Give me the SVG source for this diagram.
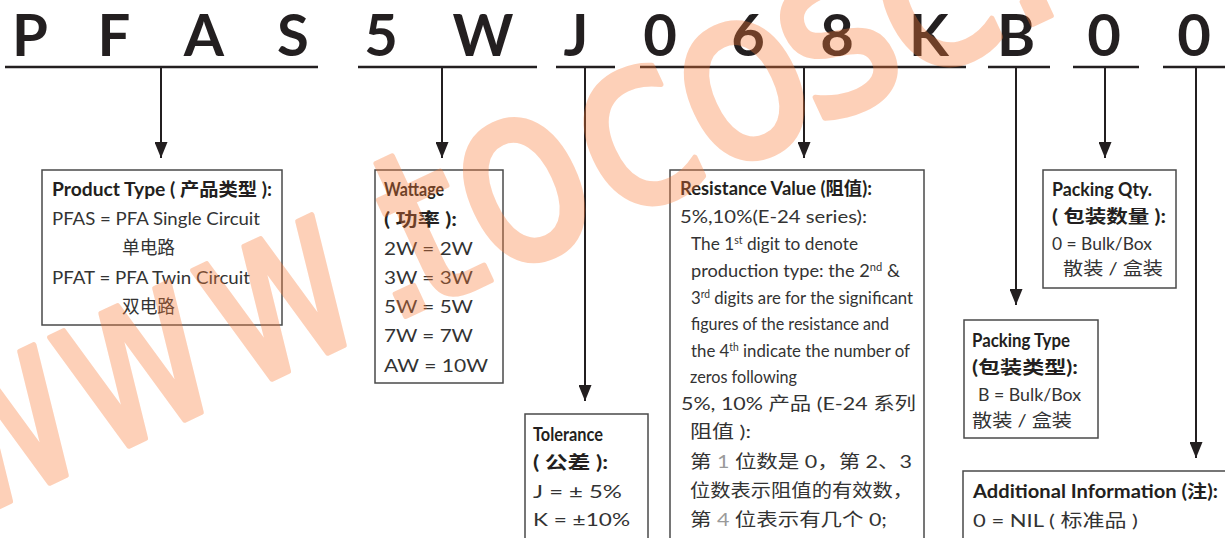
<svg xmlns="http://www.w3.org/2000/svg" width="1225" height="538" viewBox="0 0 1225 538">
<style>
.code{font-family:Lato,"Liberation Sans",sans-serif;font-weight:bold;font-size:58px;fill:#231f20;text-anchor:middle}
.bar{stroke:#231f20;stroke-width:2.6;fill:none}
.box{fill:none;stroke:#4a4a4a;stroke-width:1.5}
.t{font-family:Lato,"Noto Sans CJK SC",sans-serif;font-size:18px;fill:#333333}
.b{font-family:Lato,"Noto Sans CJK SC",sans-serif;font-size:18px;font-weight:bold;fill:#231f20}
.g{fill:#9a9a9a}
.sup{font-size:11px}
.conn{stroke:#231f20;stroke-width:2;fill:none;marker-end:url(#ah)}
#watermark{opacity:0.36}
.wm{font-family:"DejaVu Sans",sans-serif;font-size:200px;fill:rgb(250,125,58);stroke:rgb(250,125,58);stroke-width:5;stroke-linejoin:round;text-anchor:middle}
</style>
<defs>
<marker id="ah" markerUnits="userSpaceOnUse" markerWidth="16" markerHeight="13" refX="16" refY="6.5" orient="auto">
<path d="M0,0 L16,6.5 L0,13 z" fill="#231f20"/>
</marker>
</defs>
<rect width="1225" height="538" fill="#ffffff"/>

<g id="code">
<text class="code" x="30" y="56">P</text>
<text class="code" x="114" y="56">F</text>
<text class="code" x="204" y="56">A</text>
<text class="code" x="293" y="56">S</text>
<text class="code" x="381" y="56">5</text>
<text class="code" x="483" y="56">W</text>
<text class="code" x="576" y="56">J</text>
<text class="code" x="660" y="56">0</text>
<text class="code" x="748" y="56">6</text>
<text class="code" x="837" y="56">8</text>
<text class="code" x="929" y="56">K</text>
<text class="code" x="1016" y="56">B</text>
<text class="code" x="1104" y="56">0</text>
<text class="code" x="1194" y="56">0</text>
<line class="bar" x1="5" y1="67" x2="318" y2="67"/>
<line class="bar" x1="358" y1="67" x2="537" y2="67"/>
<line class="bar" x1="556" y1="67" x2="615" y2="67"/>
<line class="bar" x1="640" y1="67" x2="966" y2="67"/>
<line class="bar" x1="988" y1="67" x2="1050" y2="67"/>
<line class="bar" x1="1073" y1="67" x2="1139" y2="67"/>
<line class="bar" x1="1163" y1="67" x2="1225" y2="67"/>
</g>

<g id="connectors">
<line class="conn" x1="161" y1="67" x2="161" y2="158"/>
<line class="conn" x1="442" y1="67" x2="442" y2="158"/>
<line class="conn" x1="585" y1="67" x2="585" y2="401"/>
<line class="conn" x1="804" y1="67" x2="804" y2="158"/>
<line class="conn" x1="1016" y1="67" x2="1016" y2="305"/>
<line class="conn" x1="1105" y1="67" x2="1105" y2="158"/>
<line class="conn" x1="1196" y1="67" x2="1196" y2="458"/>
</g>

<g id="product-type">
<rect class="box" x="42" y="170" width="240" height="155"/>
<text class="b" x="52" y="196" textLength="220" lengthAdjust="spacingAndGlyphs">Product Type ( 产品类型 ):</text>
<text class="t" x="52" y="225" textLength="208" lengthAdjust="spacingAndGlyphs">PFAS = PFA Single Circuit</text>
<text class="t" x="122" y="254" textLength="53" lengthAdjust="spacingAndGlyphs">单电路</text>
<text class="t" x="52" y="284" textLength="198" lengthAdjust="spacingAndGlyphs">PFAT = PFA Twin Circuit</text>
<text class="t" x="122" y="313" textLength="53" lengthAdjust="spacingAndGlyphs">双电路</text>
</g>

<g id="wattage">
<rect class="box" x="375" y="170" width="128" height="213"/>
<text class="b" x="384" y="196" textLength="60" lengthAdjust="spacingAndGlyphs">Wattage</text>
<text class="b" x="384" y="226" textLength="73" lengthAdjust="spacingAndGlyphs">( 功率 ):</text>
<text class="t" x="384" y="255" textLength="89" lengthAdjust="spacingAndGlyphs">2W = 2W</text>
<text class="t" x="384" y="284" textLength="89" lengthAdjust="spacingAndGlyphs">3W = 3W</text>
<text class="t" x="384" y="313" textLength="89" lengthAdjust="spacingAndGlyphs">5W = 5W</text>
<text class="t" x="384" y="342" textLength="89" lengthAdjust="spacingAndGlyphs">7W = 7W</text>
<text class="t" x="384" y="372" textLength="104" lengthAdjust="spacingAndGlyphs">AW = 10W</text>
</g>

<g id="tolerance">
<rect class="box" x="525" y="414" width="123" height="130"/>
<text class="b" x="533" y="441" textLength="70" lengthAdjust="spacingAndGlyphs">Tolerance</text>
<text class="b" x="533" y="469" textLength="75" lengthAdjust="spacingAndGlyphs">( 公差 ):</text>
<text class="t" x="533" y="498" textLength="89" lengthAdjust="spacingAndGlyphs">J = ± 5%</text>
<text class="t" x="533" y="526" textLength="97" lengthAdjust="spacingAndGlyphs">K = ±10%</text>
</g>

<g id="resistance-value">
<rect class="box" x="670" y="170" width="254" height="375"/>
<text class="b" x="680" y="195" textLength="192" lengthAdjust="spacingAndGlyphs">Resistance Value (阻值):</text>
<text class="t" x="680" y="223" textLength="187" lengthAdjust="spacingAndGlyphs">5%,10%(E-24 series):</text>
<text class="t" x="691" y="250" textLength="167" lengthAdjust="spacingAndGlyphs">The 1<tspan class="sup" baseline-shift="super">st</tspan> digit to denote</text>
<text class="t" x="691" y="277" textLength="209" lengthAdjust="spacingAndGlyphs">production type: the 2<tspan class="sup" baseline-shift="super">nd</tspan>  &amp;</text>
<text class="t" x="691" y="304" textLength="222" lengthAdjust="spacingAndGlyphs">3<tspan class="sup" baseline-shift="super">rd</tspan> digits are for the significant</text>
<text class="t" x="691" y="330" textLength="198" lengthAdjust="spacingAndGlyphs">figures of the resistance and</text>
<text class="t" x="691" y="357" textLength="219" lengthAdjust="spacingAndGlyphs">the 4<tspan class="sup" baseline-shift="super">th</tspan> indicate the number of</text>
<text class="t" x="690" y="383" textLength="107" lengthAdjust="spacingAndGlyphs">zeros following</text>
<text class="t" x="681" y="410" textLength="235" lengthAdjust="spacingAndGlyphs">5%, 10% 产品 (E-24 系列</text>
<text class="t" x="690" y="438" textLength="61" lengthAdjust="spacingAndGlyphs">阻值 ):</text>
<text class="t" x="690" y="468" textLength="222" lengthAdjust="spacingAndGlyphs">第 <tspan class="g">1</tspan> 位数是 0，第 2、3</text>
<text class="t" x="690" y="497" textLength="223" lengthAdjust="spacingAndGlyphs">位数表示阻值的有效数，</text>
<text class="t" x="690" y="526" textLength="197" lengthAdjust="spacingAndGlyphs">第 <tspan class="g">4</tspan> 位表示有几个 0;</text>
</g>

<g id="packing-qty">
<rect class="box" x="1043" y="170" width="133" height="118"/>
<text class="b" x="1052" y="196" textLength="100" lengthAdjust="spacingAndGlyphs">Packing Qty.</text>
<text class="b" x="1052" y="223" textLength="114" lengthAdjust="spacingAndGlyphs">( 包装数量 ):</text>
<text class="t" x="1052" y="250" textLength="100" lengthAdjust="spacingAndGlyphs">0 = Bulk/Box</text>
<text class="t" x="1063" y="275" textLength="100" lengthAdjust="spacingAndGlyphs">散装 / 盒装</text>
</g>

<g id="packing-type">
<rect class="box" x="964" y="320" width="134" height="118"/>
<text class="b" x="972" y="347" textLength="98" lengthAdjust="spacingAndGlyphs">Packing Type</text>
<text class="b" x="972" y="374" textLength="106" lengthAdjust="spacingAndGlyphs">(包装类型):</text>
<text class="t" x="978" y="401" textLength="103" lengthAdjust="spacingAndGlyphs">B = Bulk/Box</text>
<text class="t" x="972" y="427" textLength="100" lengthAdjust="spacingAndGlyphs">散装 / 盒装</text>
</g>

<g id="additional-information">
<rect class="box" x="963" y="471" width="280" height="80"/>
<text class="b" x="973" y="498" textLength="245" lengthAdjust="spacingAndGlyphs">Additional Information (注):</text>
<text class="t" x="973" y="527" textLength="165" lengthAdjust="spacingAndGlyphs">0 = NIL ( 标准品 )</text>
</g>

<g id="watermark">
<text class="wm" transform="translate(30,492) rotate(-25) scale(0.9,1.2)">w</text>
<text class="wm" transform="translate(165,429) rotate(-25) scale(0.9,1.2)">w</text>
<text class="wm" transform="translate(308,362) rotate(-25) scale(0.9,1.2)">w</text>
<text class="wm" transform="translate(415,312) rotate(-25)">.</text>
<text class="wm" transform="translate(460,295) rotate(-25) scale(1,1.1)">t</text>
<text class="wm" transform="translate(553,252) rotate(-25) scale(1.05,1.25)">o</text>
<text class="wm" transform="translate(665,199) rotate(-25) scale(1.05,1.2)">c</text>
<text class="wm" transform="translate(772,150) rotate(-25) scale(1.05,1.2)">o</text>
<text class="wm" transform="translate(866,104) rotate(-25) scale(1.05,1.2)">s</text>
<text class="wm" transform="translate(962,60) rotate(-25) scale(1.05,1.2)">c</text>
<text class="wm" transform="translate(1042,20) rotate(-25)">.</text>
</g>
</svg>
